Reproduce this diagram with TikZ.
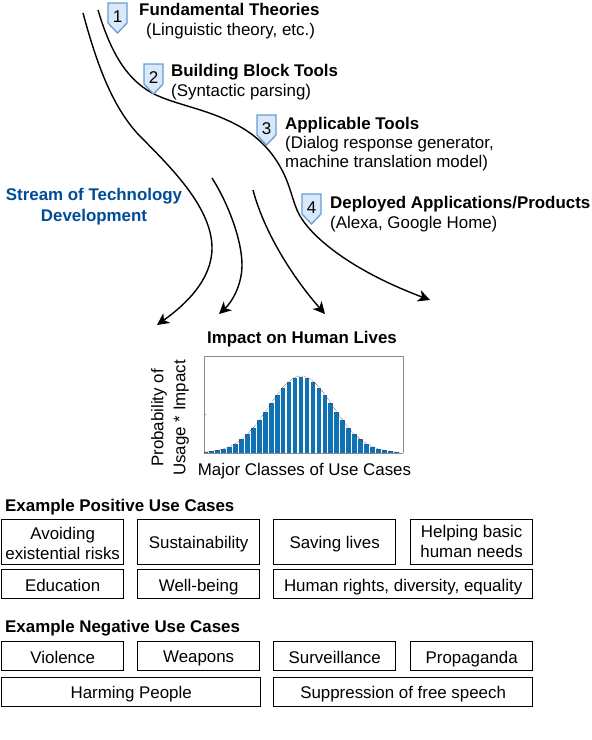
\documentclass[tikz,border=0pt]{standalone}
\usepackage{fontspec}
\setmainfont{Liberation Sans}
\usetikzlibrary{arrows.meta}
\definecolor{badgefill}{HTML}{DAE8FC}
\definecolor{badgeline}{HTML}{6C9BCF}
\definecolor{streamblue}{HTML}{004C97}
\definecolor{barblue}{HTML}{0F72B5}
\tikzset{
  x=1pt,y=-1pt,
  flow/.style={draw=black,line width=1.4pt,-{Stealth[length=12pt,width=12pt,inset=3.5pt]}},
  badge/.style={draw=badgeline,fill=badgefill,line width=1.3pt,line join=miter},
  badgenum/.style={font=\fontsize{17}{17}\selectfont,text=black,inner sep=0pt},
  head/.style={anchor=west,inner sep=0pt,yshift=-1.7pt,font=\fontsize{16.9}{19}\selectfont\bfseries,execute at begin node=\vphantom{Ag}},
  sub/.style={anchor=west,inner sep=0pt,yshift=-1.7pt,align=left,font=\fontsize{16.9}{19.5}\selectfont,execute at begin node=\vphantom{Ag}},
  usecase/.style={draw=black,line width=1.3pt,inner sep=0pt},
  casetext/.style={inner sep=0pt,align=center,font=\fontsize{16.9}{20}\selectfont},
}
\newcommand{\mybadge}[4]{%
  \draw[badge] (#1,#2) -- (#1+19,#2) -- (#1+19,#2+20) -- (#1+9.5,#2+30) -- (#1,#2+20) -- cycle;
  \node[badgenum] (#4) at (#1+9.5,#2+13.5) {#3};
}
% box from its north-west corner; the text sits a little under the centre, as in the reference
\newcommand{\mycase}[7][-1.2pt]{%
  \node[usecase,anchor=north west,minimum width=#4pt,minimum height=#5pt] (#6) at (#2,#3) {};
  \node[casetext] (#6t) at ([yshift=#1]#6.center) {\vphantom{Ag}#7};
}
\begin{document}
\begin{tikzpicture}
\useasboundingbox (0,0) rectangle (592,740);

% stream curves
\coordinate (s1) at (83,13);
\coordinate (t1) at (157,325);
\coordinate (s2) at (98,10);
\coordinate (t2) at (430,300);
\coordinate (s3) at (212,178);
\coordinate (t3) at (219,314);
\coordinate (s4) at (253,190);
\coordinate (t4) at (325,314);
\draw[flow] (s1) .. controls (97,65) and (112,105) .. (137,133)
  .. controls (165,162) and (212,205) .. (212,248)
  .. controls (212,280) and (185,305) .. (t1);
\draw[flow] (s2) .. controls (110,50) and (125,78) .. (152,93)
  .. controls (175,105) and (205,108) .. (237,125)
  .. controls (256,135) and (272,150) .. (283,172)
  .. controls (290,186) and (292,198) .. (297,210)
  .. controls (306,232) and (345,268) .. (t2);
\draw[flow] (s3) .. controls (228,203) and (242,240) .. (242,265)
  .. controls (242,285) and (232,302) .. (t3);
\draw[flow] (s4) .. controls (265,235) and (295,280) .. (t4);

% badges
\mybadge{108}{3}{1}{b1}
\mybadge{144}{64}{2}{b2}
\mybadge{257}{115}{3}{b3}
\mybadge{302}{194}{4}{b4}

% stage labels
\node[head] (h1) at (139,9) {Fundamental Theories};
\node[sub] (d1) at (146,29) {(Linguistic theory, etc.)};
\node[head] (h2) at (171,70) {Building Block Tools};
\node[sub] (d2) at (171,90) {(Syntactic parsing)};
\node[head] (h3) at (285,123) {Applicable Tools};
\node[sub] (d3) at (285,152) {(Dialog response generator,\\machine translation model)};
\node[head] (h4) at (330,202) {Deployed Applications/Products};
\node[sub] (d4) at (330,222) {(Alexa, Google Home)};

\node[inner sep=0pt,align=center,text=streamblue,font=\fontsize{16.9}{20.5}\selectfont\bfseries] (stream) at (94,206.5) {Stream of Technology\\Development};

\node[inner sep=0pt,font=\fontsize{16.9}{19}\selectfont\bfseries] (impact) at (302,339) {\vphantom{Ag}Impact on Human Lives};

% chart
\draw[draw=black!45,line width=0.6pt] (204,453) -- (204,356) -- (403,356) -- (403,453);
\foreach \i in {-16,...,16}{
  \pgfmathsetmacro{\bx}{301+5.95*\i}
  \pgfmathsetmacro{\bh}{76.5*exp(-((5.95*\i)^2)/(2*32*32))}
  \fill[barblue] (\bx-2.3,453) rectangle (\bx+2.3,453-\bh);
}
\draw[draw=red!50!black,densely dotted,line width=0.5pt,domain=-97:97,samples=70,smooth] plot ({301+\x},{453-77*exp(-(\x*\x)/(2*32*32))});
\draw[draw=black!45,line width=0.6pt] (204,453) -- (403,453);
\draw[draw=black!45,line width=0.4pt] (204,414) -- (206,414);

\node[inner sep=0pt,align=center,rotate=90,font=\fontsize{16.9}{22}\selectfont] (ylab) at (170,418) {Probability of\\Usage * Impact};
\node[inner sep=0pt,font=\fontsize{16.9}{19}\selectfont] (xlab) at (304.5,471.5) {\vphantom{Ag}Major Classes of Use Cases};

% use cases
\node[head] (pos) at (5,505) {Example Positive Use Cases};
\mycase{1}{519}{122}{45}{p1}{Avoiding\\existential risks}
\mycase[-1.7pt]{137}{519}{122}{45}{p2}{Sustainability}
\mycase[-1.7pt]{273}{519}{122}{45}{p3}{Saving lives}
\mycase{410}{519}{122}{45}{p4}{Helping basic\\\vphantom{g}human needs}
\mycase[-3pt]{1}{569}{122}{28.5}{p5}{Education}
\mycase[-3pt]{137}{569}{122}{28.5}{p6}{Well-being}
\mycase[-3pt]{273}{569}{259}{28.5}{p7}{Human rights, diversity, equality}

\node[head] (neg) at (5,626) {Example Negative Use Cases};
\mycase[-3pt]{1}{641}{122}{28.5}{n1}{Violence}
\mycase[-3pt]{137}{641}{122}{28.5}{n2}{Weapons}
\mycase[-3pt]{273}{641}{122}{28.5}{n3}{Surveillance}
\mycase[-3pt]{410}{641}{122}{28.5}{n4}{Propaganda}
\mycase[-2.5pt]{1}{677}{259}{28.5}{n5}{Harming People}
\mycase[-2.5pt]{273}{677}{259}{28.5}{n6}{Suppression of free speech}
\end{tikzpicture}
\end{document}
